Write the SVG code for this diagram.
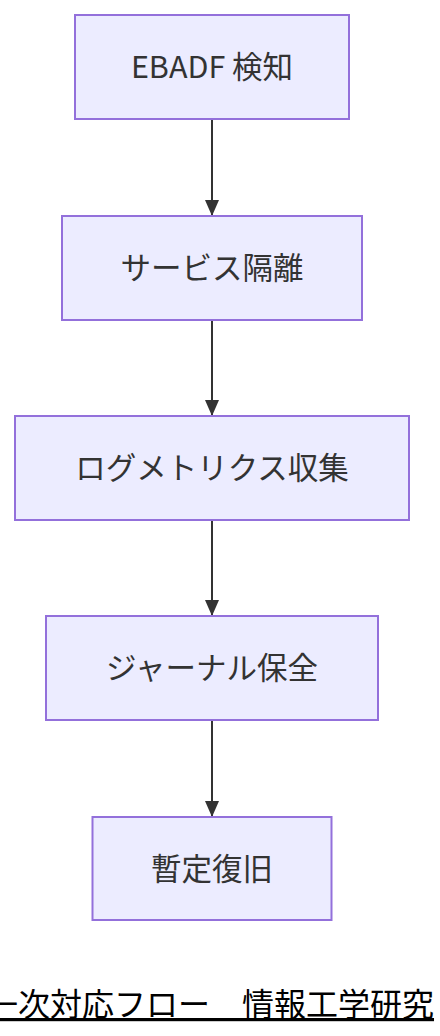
<svg xmlns="http://www.w3.org/2000/svg" width="440" height="1036" viewBox="0 0 440 1036">
<style>
.node rect{fill:#ECECFF;stroke:#9370DB;stroke-width:2}
.node text{font-family:"Noto Sans CJK JP","Noto Sans",sans-serif;font-size:30.5px;fill:#333333;text-anchor:middle;dominant-baseline:central}
.edge{stroke:#333333;stroke-width:2;fill:none}
.title{font-family:"Noto Sans CJK JP",sans-serif;font-size:32px;fill:#000000}
</style>
<defs>
<marker id="arrow" viewBox="0 0 16 14" refX="16" refY="7" markerWidth="16" markerHeight="14" markerUnits="userSpaceOnUse" orient="auto">
<path d="M0,0 L16,7 L0,14 Z" fill="#333333"/>
</marker>
</defs>
<g id="edges">
<line class="edge" x1="212" y1="119" x2="212" y2="216" marker-end="url(#arrow)"/>
<line class="edge" x1="212" y1="320" x2="212" y2="416" marker-end="url(#arrow)"/>
<line class="edge" x1="212" y1="520" x2="212" y2="616" marker-end="url(#arrow)"/>
<line class="edge" x1="212" y1="720" x2="212" y2="817" marker-end="url(#arrow)"/>
</g>
<g id="n1" class="node"><rect x="75" y="15" width="274" height="104"/><text x="212" y="65">EBADF 検知</text></g>
<g id="n2" class="node"><rect x="62" y="216" width="300" height="104"/><text x="212" y="266">サービス隔離</text></g>
<g id="n3" class="node"><rect x="15" y="416" width="394" height="104"/><text x="212" y="466">ログメトリクス収集</text></g>
<g id="n4" class="node"><rect x="46" y="616" width="332" height="104"/><text x="212" y="666">ジャーナル保全</text></g>
<g id="n5" class="node"><rect x="92.5" y="817" width="239" height="103"/><text x="212" y="866.5">暫定復旧</text></g>
<g id="title">
<text class="title" x="-14" y="1016" text-decoration="underline">一次対応フロー　情報工学研究</text>
</g>
</svg>
